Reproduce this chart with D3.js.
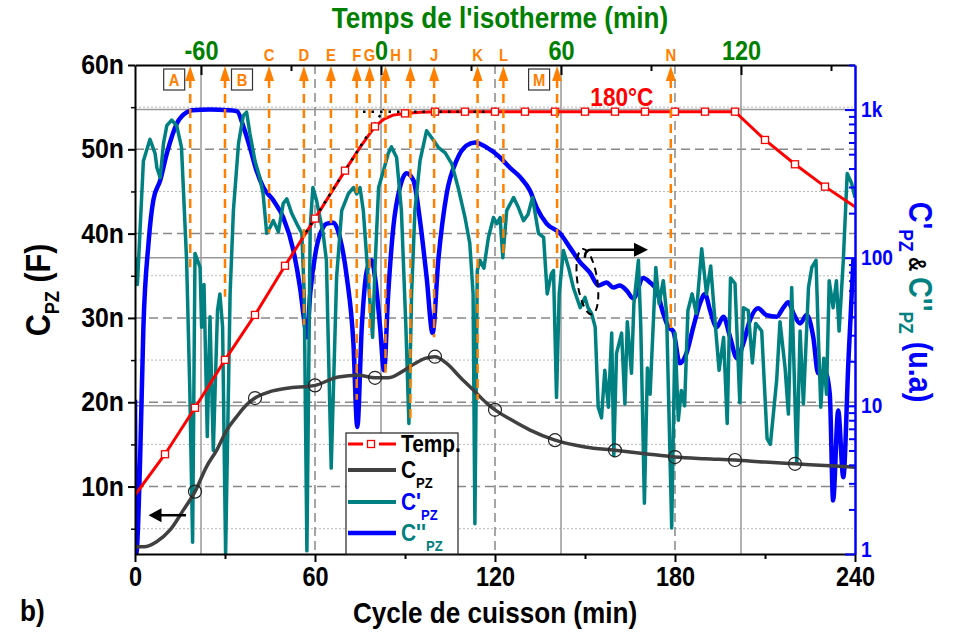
<!DOCTYPE html>
<html>
<head>
<meta charset="utf-8">
<title>Cycle de cuisson</title>
<script src="https://cdn.jsdelivr.net/npm/d3@7"></script>
<style>
  body { margin: 0; background: #fff; }
  text { font-family: "Liberation Sans", Arial, sans-serif; font-weight: bold; }
</style>
</head>
<body>
<svg id="chart" width="957" height="639"></svg>
<script>
// ---- values ----
// cure temperature (hidden axis, degC) vs cycle time (min)
var tempTime = [0, 10, 20, 30, 40, 50, 60, 70, 75, 80, 83, 86, 90, 95, 100, 110, 120, 130, 140, 150, 160, 170, 180, 190, 200, 210, 220, 230, 240];
var tempVal  = [24, 40.6, 59.5, 79, 97.3, 117.3, 136.5, 156, 165.5, 174, 177, 178.6, 179.3, 179.8, 180, 180, 180, 180, 180, 180, 180, 180, 180, 180, 180, 168.5, 158.6, 149.5, 141.3];

// C_PZ (nF)
var cpzTime = [0, 3, 7.2, 11.7, 16.1, 20, 23.9, 27.2, 30.6, 33.9, 37.2, 40, 45, 50.6, 60, 67.8, 74.4, 80, 84.4, 88.9, 93.3, 96.7, 100, 103.9, 108.3, 112.8, 117.2, 120, 125, 131.7, 140, 150, 160, 170, 180, 190, 200, 210, 220, 230, 240];
var cpzVal  = [2.85, 2.85, 3.46, 4.85, 7.2, 9.4, 12.4, 14.3, 16.7, 18.3, 19.7, 20.5, 21.25, 21.65, 22.0, 23.0, 23.2, 22.9, 22.9, 23.6, 24.6, 25.2, 25.4, 24.6, 23.0, 21.45, 19.9, 19.1, 18.0, 16.7, 15.5, 14.7, 14.3, 13.9, 13.5, 13.3, 13.15, 12.9, 12.7, 12.5, 12.3];

// C''_PZ (u.a, log axis) - blue trace
var c2Time = [0, 0.4, 1.7, 2.8, 4.5, 6.1, 8.4, 10.6, 14, 17.3, 19, 25, 31, 34, 36.2, 38.3, 40.5, 42.8, 46.1, 49.4, 52.8, 55, 56.7, 57.3, 58.4, 60.5, 62.7, 64, 66.1, 68.3, 70.6, 72.8, 74.1, 75.6, 77.3, 78.9, 80, 81.7, 83, 84.4, 86.1, 88.3, 90.5, 92.8, 95, 97.2, 99.2, 101.1, 103.9, 107.2, 110.5, 113.3, 117.2, 121.7, 125, 128.4, 131.6, 133.9, 137.2, 141.7, 145, 148.4, 151.7, 154.5, 157.2, 159.4, 161.6, 163.9, 166.1, 169.4, 171.7, 173.9, 176.1, 177.8, 179.4, 181.6, 183.8, 186.1, 188.3, 190, 191.7, 193.9, 196.1, 198.4, 200.6, 202.8, 205, 207.7, 210.5, 213.9, 216.1, 217.8, 219.5, 221.7, 223.9, 226.1, 227.7, 230, 231.6, 232.7, 234.4, 236.1, 237.8, 239.5];
var c2Val  = [11, 1.0, 4.3, 34, 125, 244, 333, 505, 809, 960, 990, 1000, 990, 975, 760, 556, 388, 298, 244, 187, 112, 63, 34, 29, 57, 117, 160, 170, 172, 137, 74, 26.5, 7.2, 34, 82, 96, 74, 34, 17.4, 57, 160, 298, 372, 333, 178, 74, 31, 96, 271, 454, 572, 600, 556, 475, 405, 350, 285, 218, 170, 146, 117, 93, 79, 65, 68, 63, 65, 60, 53, 73, 68, 60, 42, 34, 32, 19.4, 22.6, 34, 49, 57, 44, 34, 40, 29, 21, 26.5, 38, 45.6, 41, 40, 46, 50, 42, 36, 41, 29, 16.6, 17, 12, 2.3, 9.3, 3.3, 20, 100];

// C'_PZ (u.a, log axis) - teal trace
var c1Time = [0, 0.8, 2.8, 5, 6.7, 7.3, 8.4, 9.5, 10.6, 12.2, 13.9, 15.5, 17.2, 18.3, 19.2, 20, 21.7, 22.2, 23, 24.1, 25, 26.1, 27.5, 28.3, 29.2, 30.2, 31.7, 32.8, 34.5, 36.1, 37.2, 38.3, 40, 41.6, 42.7, 43.9, 45, 46.1, 47.8, 49.4, 50.6, 52.2, 53.9, 55.6, 56.4, 57.3, 58.4, 59.3, 60.5, 62.7, 63.8, 65.4, 67.2, 68.9, 71.1, 72.8, 73.9, 75, 76.1, 77.7, 79.2, 80, 81.2, 82.8, 84.4, 85.5, 87.2, 88.8, 90.3, 91.3, 92.2, 93.3, 95, 97.2, 99.5, 101.1, 103.4, 105.6, 107.7, 110, 111.6, 112.7, 113.3, 114.1, 115, 116.3, 117.8, 119.5, 120.6, 121.7, 122.6, 123.9, 126.2, 127.8, 129.5, 131, 132.5, 134.5, 136.2, 137.4, 138.8, 139.5, 140.5, 141.4, 142.8, 144.5, 146.1, 148.4, 150, 151, 152.2, 153.4, 154.4, 155.5, 156.6, 157.8, 158.9, 159.6, 160.5, 162.2, 163.3, 164.1, 165.5, 166.3, 167.8, 168.6, 169.8, 170.8, 171.7, 173.6, 174.7, 176.1, 177.2, 178.9, 180, 181.1, 182.1, 183.2, 184.3, 185.7, 187.1, 188.9, 190.5, 191.9, 193.3, 194.7, 196.2, 197.4, 198.5, 200, 201.6, 202.8, 204.4, 205.8, 206.9, 208.9, 210.7, 211.8, 213.9, 215, 216.7, 217.8, 218.9, 220.6, 221.7, 222.8, 224.5, 225.6, 227, 227.8, 228.6, 229.6, 230.5, 231.4, 232.7, 233.8, 234.7, 236.1, 237.4, 238.9, 240];
var c1Val  = [100, 66, 450, 630, 505, 405, 347, 590, 780, 850, 780, 556, 96, 12, 1.2, 107, 86, 34, 66, 6.2, 40, 5, 44, 57, 34, 1.0, 57, 208, 590, 910, 960, 690, 450, 347, 270, 146, 160, 178, 150, 232, 250, 200, 170, 146, 57, 1.05, 160, 298, 244, 146, 96, 3.8, 74, 208, 270, 298, 270, 298, 208, 74, 29, 86, 298, 385, 505, 560, 475, 208, 34, 7.6, 57, 208, 450, 720, 620, 556, 510, 430, 298, 187, 125, 57, 1.6, 82, 96, 85, 137, 187, 170, 187, 100, 208, 255, 218, 178, 196, 255, 146, 137, 57, 78, 82, 11.4, 57, 112, 86, 63, 46, 54, 46, 42, 34, 9.8, 8.3, 17.4, 9.8, 31, 4.6, 22.6, 31, 10.3, 37, 16.6, 49, 96, 34, 2.2, 18, 12, 86, 49, 70, 42, 1.5, 31, 8, 12.7, 10, 44, 57, 42, 115, 57, 88, 38, 17.4, 29, 7.6, 73, 67, 10.5, 46, 44, 19.5, 36, 32, 6, 5.5, 15, 37, 18, 8.8, 63, 4.1, 32, 10.3, 63, 86, 96, 29, 9.8, 21, 12, 70, 46, 70, 32, 96, 370, 317, 255];

// labelled events (orange arrows): cycle time and lower end (nF)
var evtLabel = ["A", "B", "C", "D", "E", "F", "G", "H", "I", "J", "K", "L", "M", "N"];
var evtTime  = [18.4, 30, 44.7, 56.3, 65.3, 73.9, 78.2, 83.5, 91.8, 99.7, 114.2, 122.8, 140.7, 178.6];
var evtFoot  = [36, 32.5, 40.1, 29.2, 34.5, 20.3, 28, 23.5, 17.5, 27.7, 20.3, 37.2, 35.3, 28.2];
var evtBoxed = ["A", "B", "M"];

// tangent construction on the temperature ramp (black dots)
var rampTime = [57, 83];
var rampTemp = [131, 181];
var flatTime = [76, 118];

// axis arrows
var leftArrowTime = [17, 4.5], leftArrowLevel = 6.6;      // nF
var rightArrowTime = [150.3, 171], rightArrowLevel = 113; // u.a
var ovalTime = 150.8, ovalLevel = 69;

// ticks
var xMajor = [0, 60, 120, 180, 240];
var xMinor = [30, 90, 150, 210];
var isoMajor = [-60, 0, 60, 120];
var isoMinor = [-30, 30, 90, 150];
var leftMajor = [10, 20, 30, 40, 50, 60];
var leftMinor = [5, 15, 25, 35, 45, 55];
var rightMajor = [1, 10, 100, 1000];
var isoOffset = 82;     // isotherm starts at 82 min of cycle
var plateauTemp = 180;

// ---- layout ----
var W = 957, H = 639;
var m = {left: 135, right: 855, top: 65, bottom: 554};
var red = "#ff0000", blue = "#0000ff", teal = "#008080", grey = "#404040", orange = "#ff8000", green = "#008000";
var sq = 0.87; // the original lettering is horizontally condensed

var x = d3.scaleLinear().domain([0, 240]).range([m.left, m.right]);
var xIso = d3.scaleLinear().domain([-isoOffset, 240 - isoOffset]).range([m.left, m.right]);
var yL = d3.scaleLinear().domain([2, 60]).range([m.bottom, m.top]);
var yR = d3.scaleLog().domain([1, 2000]).range([m.bottom, m.top]);
var yT = d3.scaleLinear().domain([0, 199]).range([m.bottom, m.top]);

function zip(a, b) { return a.map(function (v, i) { return [v, b[i]]; }); }

function squeeze(sel, k) {
  sel.each(function () {
    var w = this.getComputedTextLength();
    d3.select(this).attr("textLength", w * k).attr("lengthAdjust", "spacingAndGlyphs");
  });
}

function label(parent, px, py, size, color, anchor, rotate) {
  return parent.append("text")
    .attr("transform", "translate(" + px + "," + py + ")" + (rotate ? " rotate(" + rotate + ")" : "") + " scale(" + sq + ",1)")
    .attr("font-size", size)
    .attr("fill", color)
    .attr("text-anchor", anchor || "start");
}

var svg = d3.select("#chart");
svg.append("rect").attr("width", W).attr("height", H).attr("fill", "#fff");
svg.append("defs").append("clipPath").attr("id", "clip").append("rect")
  .attr("x", m.left).attr("y", m.top).attr("width", m.right - m.left).attr("height", m.bottom - m.top);

// ---- grid ----
var grid = svg.append("g");
grid.selectAll(".gl-minor").data(leftMinor).join("line").attr("class", "gl-minor")
  .attr("x1", m.left).attr("x2", m.right).attr("y1", d => yL(d)).attr("y2", d => yL(d))
  .attr("stroke", "#b8b8b8").attr("stroke-width", 1).attr("stroke-dasharray", "2,2");
grid.selectAll(".gl-major").data(leftMajor.filter(d => d < 60)).join("line").attr("class", "gl-major")
  .attr("x1", m.left).attr("x2", m.right).attr("y1", d => yL(d)).attr("y2", d => yL(d))
  .attr("stroke", "#888").attr("stroke-width", 1.5).attr("stroke-dasharray", "9,5");
grid.selectAll(".gr-major").data(rightMajor.filter(d => d > 1)).join("line").attr("class", "gr-major")
  .attr("x1", m.left).attr("x2", m.right).attr("y1", d => yR(d)).attr("y2", d => yR(d))
  .attr("stroke", "#999").attr("stroke-width", 1.5);
grid.selectAll(".gx-major").data(xMajor.filter(d => d > 0 && d < 240)).join("line").attr("class", "gx-major")
  .attr("y1", m.top).attr("y2", m.bottom).attr("x1", d => x(d)).attr("x2", d => x(d))
  .attr("stroke", "#888").attr("stroke-width", 1.5).attr("stroke-dasharray", "9,5");
grid.selectAll(".gi-major").data(isoMajor).join("line").attr("class", "gi-major")
  .attr("y1", m.top).attr("y2", m.bottom).attr("x1", d => xIso(d)).attr("x2", d => xIso(d))
  .attr("stroke", "#999").attr("stroke-width", 1.5);

// ---- curves ----
var curves = svg.append("g").attr("clip-path", "url(#clip)");

var lineR = d3.line().x(d => x(d[0])).y(d => yR(d[1]));
curves.append("path").datum(zip(c2Time, c2Val))
  .attr("d", lineR.curve(d3.curveMonotoneX))
  .attr("fill", "none").attr("stroke", blue).attr("stroke-width", 4.5).attr("stroke-linejoin", "round");
curves.append("path").datum(zip(c1Time, c1Val))
  .attr("d", d3.line().x(d => x(d[0])).y(d => yR(d[1])))
  .attr("fill", "none").attr("stroke", teal).attr("stroke-width", 3.5).attr("stroke-linejoin", "round");

var cpz = zip(cpzTime, cpzVal);
curves.append("path").datum(cpz)
  .attr("d", d3.line().x(d => x(d[0])).y(d => yL(d[1])).curve(d3.curveMonotoneX))
  .attr("fill", "none").attr("stroke", grey).attr("stroke-width", 3.5);
curves.selectAll(".cpz-dot").data(cpz.filter(d => d[0] > 0 && d[0] < 240 && d[0] % 20 === 0)).join("circle")
  .attr("class", "cpz-dot")
  .attr("cx", d => x(d[0])).attr("cy", d => yL(d[1])).attr("r", 6.5)
  .attr("fill", "none").attr("stroke", "#222").attr("stroke-width", 1.2);

// ---- event arrows ----
var shift = {A: -16, B: 17, H: 10, M: -18};
var ev = svg.append("g");
evtLabel.forEach(function (lab, i) {
  var ex = x(evtTime[i]);
  ev.append("line").attr("x1", ex).attr("x2", ex).attr("y1", m.top + 14).attr("y2", yL(evtFoot[i]))
    .attr("stroke", orange).attr("stroke-width", 2.5).attr("stroke-dasharray", "9,6");
  ev.append("path").attr("d", "M" + ex + "," + (m.top + 1) + "l-5,15h10z").attr("fill", orange);
  var lx = ex + (shift[lab] || 0);
  if (evtBoxed.indexOf(lab) >= 0) {
    ev.append("rect").attr("x", lx - 10.5).attr("y", m.top + 4).attr("width", 21).attr("height", 21)
      .attr("fill", "#fff").attr("stroke", "#333").attr("stroke-width", 1.2);
    label(ev, lx, m.top + 21, 17, orange, "middle").text(lab);
  } else {
    label(ev, lx, m.top - 4, 17, orange, "middle").text(lab);
  }
});

// ---- temperature ----
var temp = zip(tempTime, tempVal);
curves.append("path").datum(temp)
  .attr("d", d3.line().x(d => x(d[0])).y(d => yT(d[1])))
  .attr("fill", "none").attr("stroke", red).attr("stroke-width", 3);
var dots = d3.line().x(d => x(d[0])).y(d => yT(d[1]));
curves.append("path").datum(zip(rampTime, rampTemp)).attr("d", dots)
  .attr("stroke", "#000").attr("stroke-width", 2.5).attr("stroke-dasharray", "2.5,6");
curves.append("path").datum(zip(flatTime, [plateauTemp, plateauTemp])).attr("d", dots)
  .attr("stroke", "#000").attr("stroke-width", 2.5).attr("stroke-dasharray", "2.5,6");
curves.selectAll(".t-dot").data(temp.filter(d => d[0] > 0 && d[0] < 240 && d[0] % 10 === 0)).join("rect")
  .attr("class", "t-dot")
  .attr("x", d => x(d[0]) - 3.5).attr("y", d => yT(d[1]) - 3.5).attr("width", 7).attr("height", 7)
  .attr("fill", "#fff").attr("stroke", red).attr("stroke-width", 1.3);
label(svg, x(162.3), yT(plateauTemp) - 6, 26, red, "middle").text("180°C");

// ---- axis arrows ----
var ann = svg.append("g").attr("stroke", "#000").attr("fill", "none");
var ay = yL(leftArrowLevel);
ann.append("line").attr("x1", x(leftArrowTime[0])).attr("x2", x(leftArrowTime[1]) + 10).attr("y1", ay).attr("y2", ay).attr("stroke-width", 2.5);
ann.append("path").attr("d", "M" + x(leftArrowTime[1]) + "," + ay + "l13,-7v14z").attr("fill", "#000").attr("stroke", "none");
var by = yR(rightArrowLevel);
var bx0 = x(rightArrowTime[0]), bx1 = x(rightArrowTime[1]);
ann.append("path").attr("d", "M" + (bx0 - 1) + "," + (by + 8) + "Q" + (bx0 - 1) + "," + by + " " + (bx0 + 5) + "," + by + "H" + (bx1 - 10))
  .attr("stroke-width", 2.5);
ann.append("path").attr("d", "M" + bx1 + "," + by + "l-14,-7v14z").attr("fill", "#000").attr("stroke", "none");
ann.append("ellipse").attr("rx", 10).attr("ry", 33)
  .attr("transform", "translate(" + x(ovalTime) + "," + yR(ovalLevel) + ") rotate(-8)")
  .attr("stroke-width", 2).attr("stroke-dasharray", "7,5");

// ---- axes ----
function styleAxis(g, color, size, k) {
  g.attr("color", color);
  g.select(".domain").attr("stroke-width", 2);
  g.selectAll(".tick line").attr("stroke-width", 2);
  g.selectAll(".tick text").attr("font-size", size);
  if (k) squeeze(g.selectAll(".tick text"), k);
}

var gB = svg.append("g").attr("transform", "translate(0," + m.bottom + ")")
  .call(d3.axisBottom(x).tickValues(xMajor).tickSize(8).tickSizeOuter(0).tickPadding(5).tickFormat(d => String(d)));
styleAxis(gB, "#000", 27, sq);
svg.append("g").attr("transform", "translate(0," + m.bottom + ")")
  .call(d3.axisBottom(x).tickValues(xMinor).tickSize(5).tickFormat(""))
  .call(g => g.select(".domain").remove())
  .call(g => g.selectAll("line").attr("stroke-width", 2));

var gL = svg.append("g").attr("transform", "translate(" + m.left + ",0)")
  .call(d3.axisLeft(yL).tickValues(leftMajor).tickSize(7).tickSizeOuter(0).tickPadding(4).tickFormat(d => d + "n"));
styleAxis(gL, "#000", 27, 0.92);
svg.append("g").attr("transform", "translate(" + m.left + ",0)")
  .call(d3.axisLeft(yL).tickValues(leftMinor).tickSize(4).tickFormat(""))
  .call(g => g.select(".domain").remove())
  .call(g => g.selectAll("line").attr("stroke-width", 1.5));

var gT = svg.append("g").attr("transform", "translate(0," + m.top + ")")
  .call(d3.axisTop(xIso).tickValues(isoMajor).tickSize(-10).tickSizeOuter(0).tickPadding(5).tickFormat(d => String(d)));
styleAxis(gT, "#000", 27, sq);
gT.selectAll(".tick text").attr("fill", green);
svg.append("g").attr("transform", "translate(0," + m.top + ")")
  .call(d3.axisTop(xIso).tickValues(isoMinor).tickSize(-6).tickFormat(""))
  .call(g => g.select(".domain").remove())
  .call(g => g.selectAll("line").attr("stroke-width", 2));

var gR = svg.append("g").attr("transform", "translate(" + m.right + ",0)")
  .call(d3.axisRight(yR).tickValues(rightMajor).tickSize(-10).tickSizeOuter(0).tickPadding(6)
    .tickFormat(d => d >= 1000 ? (d / 1000) + "k" : d));
styleAxis(gR, blue, 22, sq);
gR.select(".domain").attr("stroke-width", 2.5);
gR.selectAll(".tick text").filter(d => d === 1).attr("dy", "0.1em");
svg.append("g").attr("transform", "translate(" + m.right + ",0)")
  .call(d3.axisRight(yR).tickValues(yR.ticks().filter(d => rightMajor.indexOf(d) < 0)).tickSize(-6).tickFormat(""))
  .call(g => g.select(".domain").remove())
  .call(g => g.attr("color", blue).selectAll("line").attr("stroke-width", 2));

// ---- titles ----
label(svg, (m.left + m.right) / 2 + 5, 28, 30, green, "middle").text("Temps de l'isotherme (min)");
label(svg, (m.left + m.right) / 2 + 0, 623, 30, "#000", "middle").text("Cycle de cuisson (min)");
label(svg, 20, 621, 30, "#000", "start").text("b)");

var lt = label(svg, 50, 290, 35, "#000", "middle", -90);
lt.append("tspan").text("C");
lt.append("tspan").attr("font-size", 21).attr("dy", 9).text("PZ");
lt.append("tspan").attr("dy", -9).text(" (F)");

var rt = label(svg, 909, 302, 33, blue, "middle", 90);
rt.append("tspan").text("C'");
rt.append("tspan").attr("font-size", 20).attr("dy", 10).text("PZ");
rt.append("tspan").attr("dy", -10).attr("fill", "#000").attr("font-size", 23).text(" & ");
rt.append("tspan").attr("fill", teal).text("C''");
rt.append("tspan").attr("fill", teal).attr("font-size", 20).attr("dy", 10).text("PZ");
rt.append("tspan").attr("dy", -10).text(" (u.a)");

// ---- legend ----
var series = [
  {name: "Temp.", sub: "", line: red, text: "#000", width: 3, marker: true},
  {name: "C", sub: "PZ", line: grey, text: "#000", width: 4},
  {name: "C'", sub: "PZ", line: teal, text: blue, width: 4},
  {name: "C''", sub: "PZ", line: blue, text: teal, width: 4.5}
];
var lg = svg.append("g");
lg.append("rect").attr("x", 346).attr("y", 433).attr("width", 112).attr("height", 121)
  .attr("fill", "#fff").attr("stroke", "#222").attr("stroke-width", 1.2);
var rowY = [444, 470, 502, 533];
series.forEach(function (s, i) {
  var ly = rowY[i];
  if (s.marker) {
    lg.append("line").attr("x1", 348).attr("x2", 396).attr("y1", ly).attr("y2", ly)
      .attr("stroke", s.line).attr("stroke-width", s.width).attr("stroke-dasharray", "15,16,18");
    lg.append("rect").attr("x", 367.5).attr("y", ly - 3.5).attr("width", 7).attr("height", 7)
      .attr("fill", "#fff").attr("stroke", s.line).attr("stroke-width", 1.3);
  } else {
    lg.append("line").attr("x1", 348).attr("x2", 396).attr("y1", ly).attr("y2", ly)
      .attr("stroke", s.line).attr("stroke-width", s.width);
  }
  var t = label(lg, 401, ly + 8, 24, s.text, "start");
  t.append("tspan").text(s.name);
  if (s.sub) t.append("tspan").attr("font-size", 15).attr("dy", 10).text(s.sub);
});
</script>
</body>
</html>
